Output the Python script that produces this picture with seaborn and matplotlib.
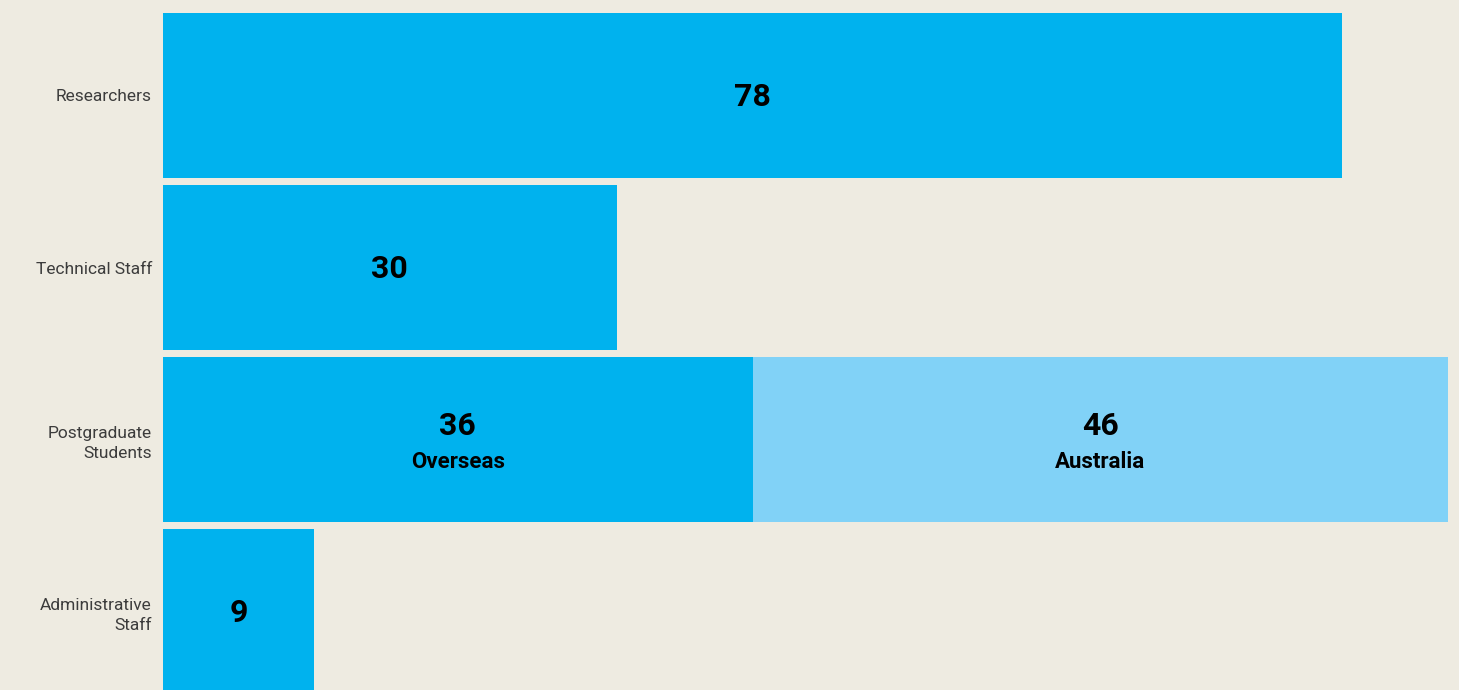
import numpy as np
import pandas as pd
import matplotlib
matplotlib.use('Agg')
import matplotlib.pyplot as plt
import seaborn as sns

# categories, top to bottom
categories = ['Researchers', 'Technical Staff', 'Postgraduate\nStudents', 'Administrative\nStaff']
# primary segment (bar length as drawn) and its label
main_len = [78, 30, 39, 10]
main_lbl = ['78', '30', '36', '9']
main_sub = ['', '', 'Overseas', '']
# second segment (only postgraduates)
extra_len = [0, 0, 46, 0]
extra_lbl = ['', '', '46', '']
extra_sub = ['', '', 'Australia', '']

BG = '#EEEBE1'
C1 = '#00B2EE'
C2 = '#81D2F7'

sns.set_style('white')
plt.rcParams['font.family'] = ['Roboto', 'DejaVu Sans']

df = pd.DataFrame({'cat': categories, 'main': main_len, 'extra': extra_len})
df['total'] = df['main'] + df['extra']

fig = plt.figure(figsize=(14.59, 6.90), dpi=100, facecolor=BG)
ax = fig.add_axes([163 / 1459, 0, 1 - 163 / 1459, 1])
ax.set_facecolor(BG)

# stacked: draw totals in light color, then overlay main segment
sns.barplot(data=df, y='cat', x='total', color=C2, saturation=1, width=0.96, ax=ax,
            orient='h', linewidth=0)
sns.barplot(data=df, y='cat', x='main', color=C1, saturation=1, width=0.96, ax=ax,
            orient='h', linewidth=0)

ax.set_xlim(0, (1459 - 163) / 15.12)
ax.set_ylim(3.456, -0.555)
for s in ax.spines.values():
    s.set_visible(False)
ax.set_xlabel('')
ax.set_ylabel('')
ax.set_xticks([])
ax.tick_params(axis='y', length=0, pad=8)
ax.set_yticks(range(len(categories)))
ax.set_yticklabels(categories, fontsize=12.5, color='#3c3c3c', fontweight='normal', ha='right',
                   linespacing=1.45)

for i in range(len(categories)):
    cx = main_len[i] / 2
    if main_sub[i]:
        ax.text(cx, i - 0.08, main_lbl[i], ha='center', va='center', fontsize=23,
                fontweight='bold', color='black')
        ax.text(cx, i + 0.13, main_sub[i], ha='center', va='center', fontsize=16,
                fontweight='bold', color='black')
    else:
        ax.text(cx, i + 0.01, main_lbl[i], ha='center', va='center', fontsize=23,
                fontweight='bold', color='black')
    if extra_len[i]:
        ex = main_len[i] + extra_len[i] / 2
        ax.text(ex, i - 0.08, extra_lbl[i], ha='center', va='center', fontsize=23,
                fontweight='bold', color='black')
        ax.text(ex, i + 0.13, extra_sub[i], ha='center', va='center', fontsize=16,
                fontweight='bold', color='black')

fig.savefig('out.png', dpi=100, facecolor=BG)
